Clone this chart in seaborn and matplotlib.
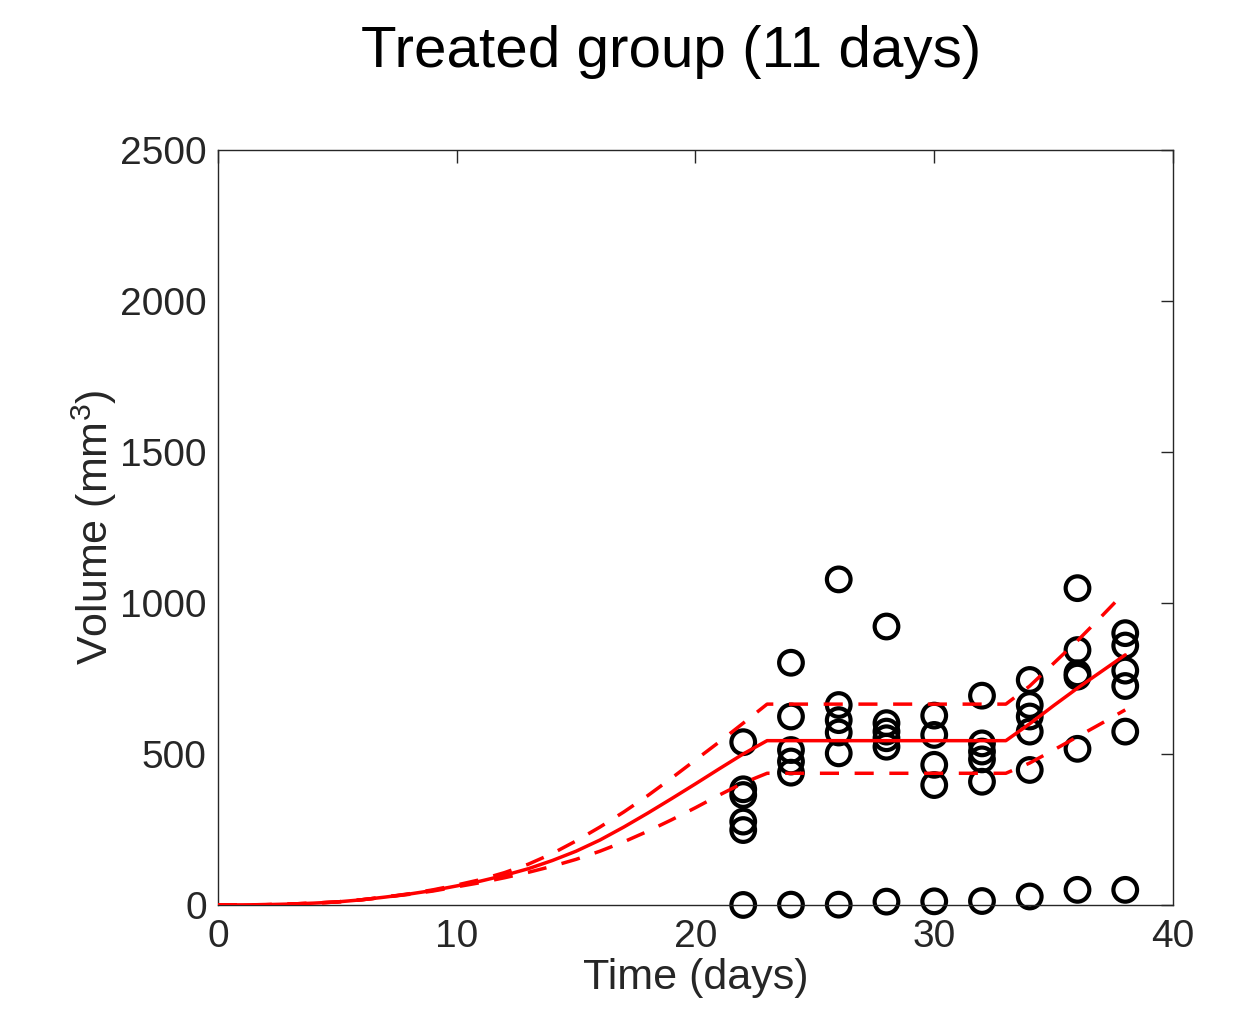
import numpy as np
import pandas as pd
import matplotlib
matplotlib.use("Agg")
import matplotlib.pyplot as plt
import seaborn as sns

# ---- observed tumour volumes (mm^3) per measurement day ----
obs_day = [22]*6 + [24]*6 + [26]*6 + [28]*6 + [30]*5 + [32]*6 + [34]*6 + [36]*6 + [38]*6
obs_vol = [539, 383, 364, 276, 248, 0,
           802, 624, 513, 475, 438, 1,
           1078, 662, 612, 571, 502, 1,
           922, 602, 574, 552, 524, 11,
           627, 563, 464, 397, 12,
           693, 535, 508, 482, 408, 13,
           745, 662, 624, 574, 447, 28,
           1049, 844, 767, 756, 517, 50,
           900, 859, 776, 725, 574, 50]

# ---- model curves ----
curve_t = [0, 1, 2, 3, 4, 5, 6, 7, 8, 9, 10, 11, 12, 13, 14, 15, 16, 17, 18, 19,
           20, 21, 22, 23, 33, 34, 35, 36, 37, 38]
mean_v = [0, 0.3, 1, 3, 6, 10, 17, 26, 36, 48, 63, 79, 98, 120, 147, 178, 215, 258,
          304, 352, 401, 451, 500, 544, 544, 600, 660, 718, 773, 828]
upper_v = [0, 0.3, 1, 3, 6, 10, 17, 26, 37, 50, 66, 84, 107, 135, 170, 212, 258, 308,
           362, 420, 480, 540, 602, 665, 665, 725, 800, 875, 955, 1037]
lower_v = [0, 0.3, 1, 3, 6, 10, 17, 26, 35, 46, 60, 74, 90, 108, 128, 151, 178, 209,
           244, 282, 322, 364, 404, 436, 436, 470, 513, 557, 601, 646]

title = "Treated group (11 days)"
xlabel = "Time (days)"
ylabel = "Volume (mm$^3$)"
xticks = [0, 10, 20, 30, 40]
yticks = [0, 500, 1000, 1500, 2000, 2500]

sns.set_theme(style="white")
plt.rcParams['font.family'] = ['Liberation Sans', 'DejaVu Sans']
plt.rcParams['mathtext.fontset'] = 'custom'
plt.rcParams['mathtext.rm'] = 'Liberation Sans'
plt.rcParams['mathtext.it'] = 'Liberation Sans'

fig = plt.figure(figsize=(12.54, 10.16), dpi=100)
ax = fig.add_axes([0.1738, 0.1093, 0.7616, 0.7431])

obs = pd.DataFrame({"day": obs_day, "vol": obs_vol})
sns.scatterplot(data=obs, x="day", y="vol", ax=ax, marker="o", s=290,
                facecolors="none", edgecolor="black", linewidth=3.0, zorder=2,
                clip_on=False)

cur = pd.DataFrame({"t": curve_t, "mean": mean_v, "upper": upper_v, "lower": lower_v})
for col in ["upper", "lower"]:
    sns.lineplot(data=cur, x="t", y=col, ax=ax, color="#ff0000", lw=2.5,
                 zorder=3, estimator=None, sort=False)
    ax.lines[-1].set_dashes((5.5, 4.5))
sns.lineplot(data=cur, x="t", y="mean", ax=ax, color="#ff0000", lw=2.5,
             zorder=4, estimator=None, sort=False)

ax.set_xlim(0, 40)
ax.set_ylim(0, 2500)
ax.set_xticks(xticks)
ax.set_yticks(yticks)
ax.tick_params(direction="in", length=9, width=1, colors="#262626",
               labelsize=28, top=True, right=True, pad=8)
ax.tick_params(axis="x", pad=10)
for sp in ax.spines.values():
    sp.set_visible(True)
    sp.set_color("#262626")
    sp.set_linewidth(1)
ax.set_xlabel(xlabel, fontsize=31, color="#262626", labelpad=2)
ax.set_ylabel(ylabel, fontsize=31, color="#262626", labelpad=1)
fig.suptitle(title, fontsize=42, color="black", x=0.535, y=0.975, va="top")

fig.savefig("out.png", dpi=100)
